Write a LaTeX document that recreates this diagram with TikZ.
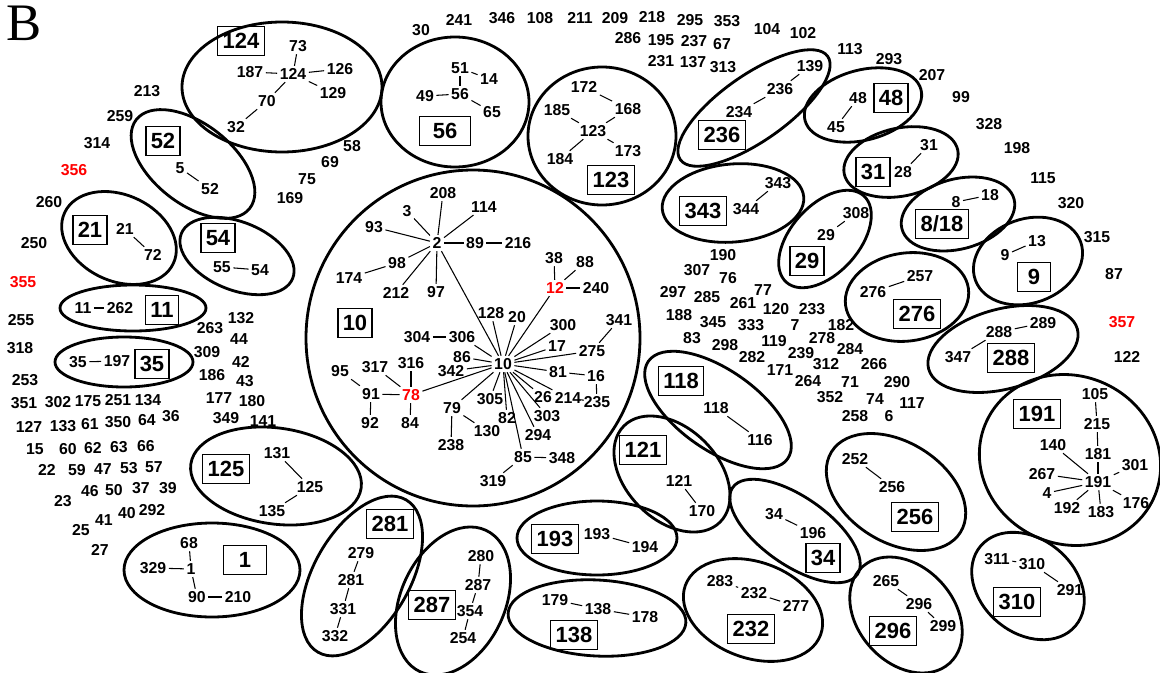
\documentclass[tikz,border=0pt]{standalone}
\usepackage{fontspec}
\setmainfont{Liberation Sans}
\newfontfamily\serifB{Liberation Serif}

\begin{document}
\begin{tikzpicture}[x=0.02cm, y=-0.02cm,
    num/.style={font=\fontsize{9}{10}\selectfont\bfseries, inner sep=1.3pt},
    rednum/.style={num, text=red},
    stbox/.style={draw, line width=0.8pt, font=\fontsize{12.5}{14}\selectfont\bfseries,
        inner xsep=2.8pt, inner ysep=0pt, minimum height=0.58cm},
    link/.style={line width=0.6pt},
    ring/.style={line width=1.6pt}]
    \useasboundingbox (0,0) rectangle (1160,673);
    \node[font=\serifB\fontsize{30}{30}\selectfont, inner sep=0pt] (title) at (24,23) {B};

    % clonal complexes
    \foreach \cx/\cy/\a/\b/\t in {282/87/100/65/0, 455/102/74/65/0, 193/164/72/40/-38,
        119/238/60/43/-25, 237/256/60/34/-22, 133/308/73/23/0, 124/362/69/25/0,
        276/476/86/48/-8, 212/570/88/47/0, 362/576/88/48/60, 453/601/78/52/65,
        597/538/80/37/0, 597/618/89/38/-3, 753/610/72/48/-20, 795/531/76/34/-35,
        672/474/68/46/-45, 718/410/85/40/-35, 733/203/71/39/5, 754/108/90/33/35,
        602/136/74/69/0, 863/105/60/35/15, 901/162/58/34/12, 958/214/58/35/15,
        825/239/58/34/48, 907/297/62/44/8, 1028/261/56/42/20, 1003/349/77/40/15,
        1070/460/92/84/-25, 896/492/76/50/-32, 906/615/65/48/-48, 1028/586/62/47/-40,
        473/338/167/168/0} {
        \draw[ring, rotate around={\t:(\cx,\cy)}] (\cx,\cy) ellipse [x radius=\a, y radius=\b];
    }

    % group founders
    \foreach \t/\x/\y in {124/241/41, 52/163/141, 21/90/230, 54/218/238, 11/162/310,
        35/152/364, 10/355/323, 125/226/469, 281/390/524, 287/432/605, 193/555/539,
        138/574/635, 232/751/629, 34/823/558, 121/643/450, 118/681/381, 343/703/211,
        236/722/135, 123/611/180, 48/891/98, 31/873/172, 29/807/261, 276/917/314,
        288/1011/358, 191/1037/414, 256/915/517, 296/893/631, 310/1017/602} {
        \node[stbox] (b\t) at (\x,\y) {\t};
    }
    \node[stbox, minimum width=1.02cm] (b56) at (445,131) {56};
    \node[stbox, minimum width=0.86cm] (b1) at (245,560) {1};
    \node[stbox, minimum width=0.66cm] (b9) at (1034,277) {9};
    \node[stbox] (b818) at (942,224) {8/18};

    % sequence types inside the groups
    \foreach \t/\x/\y in {73/298/46, 124/293/74, 187/250/72, 126/340/69, 129/333/93,
        70/267/101, 32/236/127, 51/460/68, 14/489/79, 56/460/94, 49/425/96, 65/492/112,
        5/180/168, 52/210/189, 21/125/229, 72/153/255, 55/222/267, 54/260/270,
        11/83/308, 262/120/308, 35/78/362, 197/117/361, 131/277/453, 125/310/487,
        135/272/511, 68/189/543, 1/191/569, 329/153/568, 90/197/597, 210/238/597,
        279/361/553, 281/351/580, 331/343/609, 332/335/636, 280/481/556, 287/478/585,
        354/470/611, 254/463/638, 193/597/534, 194/645/547, 179/555/600, 138/598/609,
        178/645/617, 283/720/581, 232/754/593, 277/796/606, 34/774/514, 196/813/533,
        121/679/481, 170/702/511, 118/716/408, 116/760/440, 343/778/183, 344/746/209,
        234/739/112, 236/780/89, 139/810/66, 172/584/87, 168/628/109, 185/557/110,
        123/593/131, 173/628/151, 184/560/159, 48/858/98, 45/836/127, 28/903/172,
        31/929/145, 8/956/202, 18/990/195, 29/826/235, 308/856/213, 276/873/292,
        257/920/276, 9/1005/255, 13/1037/241, 288/999/332, 289/1043/323, 347/958/357,
        105/1095/394, 215/1097/424, 181/1098/454, 140/1053/445, 191/1098/482,
        267/1042/474, 4/1047/493, 192/1067/508, 183/1101/512, 176/1136/503,
        301/1135/465, 252/855/459, 256/892/487, 265/886/581, 296/919/604, 299/943/626,
        311/997/559, 310/1032/564, 291/1070/590,
        208/443/193, 3/407/211, 114/484/207, 93/374/227, 2/437/243, 89/475/243,
        216/518/243, 98/397/263, 174/349/278, 212/396/293, 97/436/292, 38/554/258,
        88/585/262, 240/596/288, 128/491/313, 20/517/317, 300/563/325, 341/619/320,
        304/417/337, 306/462/337, 17/557/346, 275/592/351, 86/462/357, 10/503/364,
        342/451/371, 81/558/372, 16/596/376, 235/597/402, 95/340/371, 317/375/367,
        316/411/363, 91/371/394, 92/370/423, 84/410/423, 26/543/397, 214/568/398,
        305/490/399, 79/452/408, 82/507/418, 303/547/416, 130/487/431, 294/538/435,
        238/451/445, 85/523/457, 348/562/458, 319/493/481} {
        \node[num] (n\t) at (\x,\y) {\t};
    }
    \node[rednum] (n12) at (555,288) {12};
    \node[rednum] (n78) at (411,395) {78};

    \foreach \u/\v in {73/124, 187/124, 124/126, 124/129, 124/70, 70/32,
        51/56, 51/14, 49/56, 56/65, 5/52, 21/72, 55/54, 11/262, 35/197,
        131/125, 125/135, 68/1, 329/1, 1/90, 90/210, 279/281, 281/331, 331/332,
        280/287, 287/354, 354/254, 193/194, 179/138, 138/178, 283/232, 232/277,
        34/196, 121/170, 118/116, 343/344, 234/236, 236/139,
        172/168, 168/123, 185/123, 184/123, 123/173, 48/45, 28/31, 8/18, 29/308,
        276/257, 9/13, 288/289, 288/347, 105/215, 215/181, 181/191, 140/191,
        267/191, 4/191, 192/191, 183/191, 176/191, 301/191, 252/256, 265/296,
        296/299, 311/310, 310/291,
        208/2, 3/2, 114/2, 93/2, 2/89, 89/216, 98/2, 174/98, 212/2, 97/2, 2/10,
        38/12, 88/12, 12/240, 12/10, 128/10, 20/10, 300/10, 17/10, 275/10,
        341/275, 306/10, 304/306, 86/10, 342/10, 81/10, 81/16, 16/235, 214/235,
        214/10, 26/10, 303/10, 294/10, 82/10, 305/10, 79/10, 79/130, 79/238,
        85/10, 85/348, 85/319, 78/10, 316/78, 317/78, 91/78, 84/78, 95/91, 92/91} {
        \draw[link] (n\u) -- (n\v);
    }

    % singletons
    \foreach \t/\x/\y in {30/421/30, 241/459/20, 346/502/18, 108/540/18, 211/580/18,
        209/615/18, 218/652/17, 295/690/20, 353/727/21, 104/767/29, 102/803/33,
        113/850/49, 286/628/38, 195/661/40, 237/694/41, 67/722/44, 231/661/61,
        137/693/62, 313/723/67, 293/889/59, 207/932/75, 99/961/97, 328/989/124,
        198/1017/148, 115/1043/178, 320/1071/203, 315/1097/237, 87/1114/274,
        122/1127/357, 213/147/91, 259/120/116, 314/97/143, 260/49/202, 250/34/243,
        255/21/320, 318/20/348, 253/25/380, 351/24/403, 302/58/402, 175/88/401,
        251/118/400, 134/148/400, 127/29/427, 133/63/426, 61/90/424, 350/118/422,
        64/147/420, 36/171/416, 15/35/449, 60/68/449, 62/93/448, 63/119/447,
        66/146/446, 22/47/470, 59/77/470, 47/103/469, 53/129/468, 57/154/467,
        23/63/501, 46/90/491, 50/114/490, 37/141/488, 39/168/488, 25/81/530,
        41/104/520, 40/127/513, 292/152/510, 27/100/550, 58/352/146, 69/330/162,
        75/307/179, 169/290/198, 263/210/328, 132/241/318, 44/239/339, 309/207/352,
        42/241/362, 186/212/375, 43/245/381, 177/219/398, 180/252/401, 349/226/418,
        141/263/421, 190/723/255, 307/697/270, 76/728/278, 297/673/292, 285/707/297,
        77/763/290, 261/743/303, 120/776/309, 233/812/309, 188/679/315, 345/713/322,
        333/751/325, 7/795/325, 182/841/325, 83/692/338, 298/725/345, 119/774/341,
        278/822/338, 282/752/357, 239/801/353, 284/850/349, 312/826/364, 266/874/364,
        171/780/370, 264/808/381, 71/850/382, 290/897/382, 74/875/399, 117/912/403,
        352/830/397, 258/855/416, 6/889/416} {
        \node[num] (f\t) at (\x,\y) {\t};
    }
    \foreach \t/\x/\y in {356/74/170, 355/23/282, 357/1122/322} {
        \node[rednum] (f\t) at (\x,\y) {\t};
    }
\end{tikzpicture}
\end{document}
